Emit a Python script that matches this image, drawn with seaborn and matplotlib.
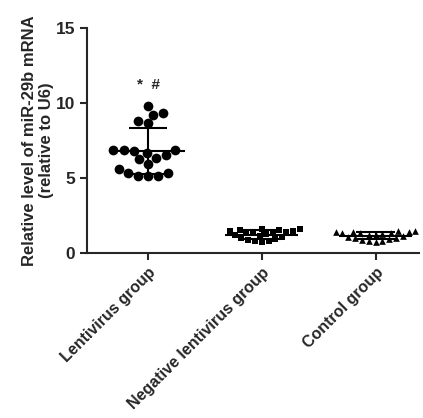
import numpy as np
import pandas as pd
import matplotlib
matplotlib.use("Agg")
import matplotlib.pyplot as plt
import seaborn as sns

# data
groups = ["Lentivirus group", "Negative lentivirus group", "Control group"]
lenti = [9.82, 9.22, 9.35, 8.65, 8.82, 6.85, 6.85, 6.65, 6.35, 6.25,
         6.53, 6.80, 6.85, 5.93, 5.30, 5.15, 5.10, 5.15, 5.30, 5.60]
negative = [0.70, 0.76, 0.82, 0.88, 0.94, 1.00, 1.06, 1.12, 1.18, 1.24,
            1.30, 1.36, 1.42, 1.48, 1.54, 1.60, 1.58, 1.52, 1.46, 1.40]
control = [0.72, 0.77, 0.82, 0.87, 0.92, 0.97, 1.02, 1.07, 1.12, 1.17,
           1.22, 1.27, 1.32, 1.37, 1.42, 1.47, 1.45, 1.40, 1.35, 1.30]
markers = ["o", "s", "^"]
yticks = [0, 5, 10, 15]

df = pd.DataFrame({
    "group": [groups[0]] * len(lenti) + [groups[1]] * len(negative) + [groups[2]] * len(control),
    "value": lenti + negative + control,
})

sns.set_style("ticks")
plt.rcParams["font.family"] = ["Liberation Sans", "DejaVu Sans"]
plt.rcParams["font.weight"] = "bold"

fig, ax = plt.subplots(figsize=(4.23, 4.18), dpi=100)
fig.subplots_adjust(left=0.205, right=0.99, top=0.933, bottom=0.395)

for g, m in zip(groups, markers):
    sub = df[df["group"] == g]
    sns.swarmplot(x="group", y="value", data=sub, order=groups, marker=m,
                  color="black", size=7 if m == "o" else 4.8, ax=ax, zorder=3)

# mean +/- SD
for i, g in enumerate(groups):
    vals = df.loc[df["group"] == g, "value"]
    mu, sd = vals.mean(), vals.std()
    ax.hlines(mu, i - 0.32, i + 0.32, color="black", lw=1.5, zorder=4)
    ax.hlines([mu - sd, mu + sd], i - 0.17, i + 0.17, color="black", lw=1.5, zorder=4)
    ax.vlines(i, mu - sd, mu + sd, color="black", lw=1.5, zorder=4)

ax.text(0, 11.2, "*  #", ha="center", va="center", fontsize=11, fontweight="bold")

ax.set_ylim(0, 15)
ax.set_yticks(yticks)
ax.set_xlim(-0.54, 2.38)
ax.set_xlabel("")
ax.set_ylabel("Relative level of miR-29b mRNA\n(relative to U6)", fontsize=12,
              fontweight="bold", labelpad=1)
ax.set_xticks(range(len(groups)))
ax.set_xticklabels(groups, rotation=45, ha="right", rotation_mode="anchor",
                   fontsize=11.5, fontweight="bold")
ax.tick_params(axis="y", labelsize=12.5, width=1.5, length=5)
ax.tick_params(axis="x", width=1.5, length=5)
for lab in ax.get_yticklabels():
    lab.set_fontweight("bold")
sns.despine(ax=ax)
ax.spines["left"].set_linewidth(1.5)
ax.spines["bottom"].set_linewidth(1.5)

plt.savefig("out.png", dpi=100)
